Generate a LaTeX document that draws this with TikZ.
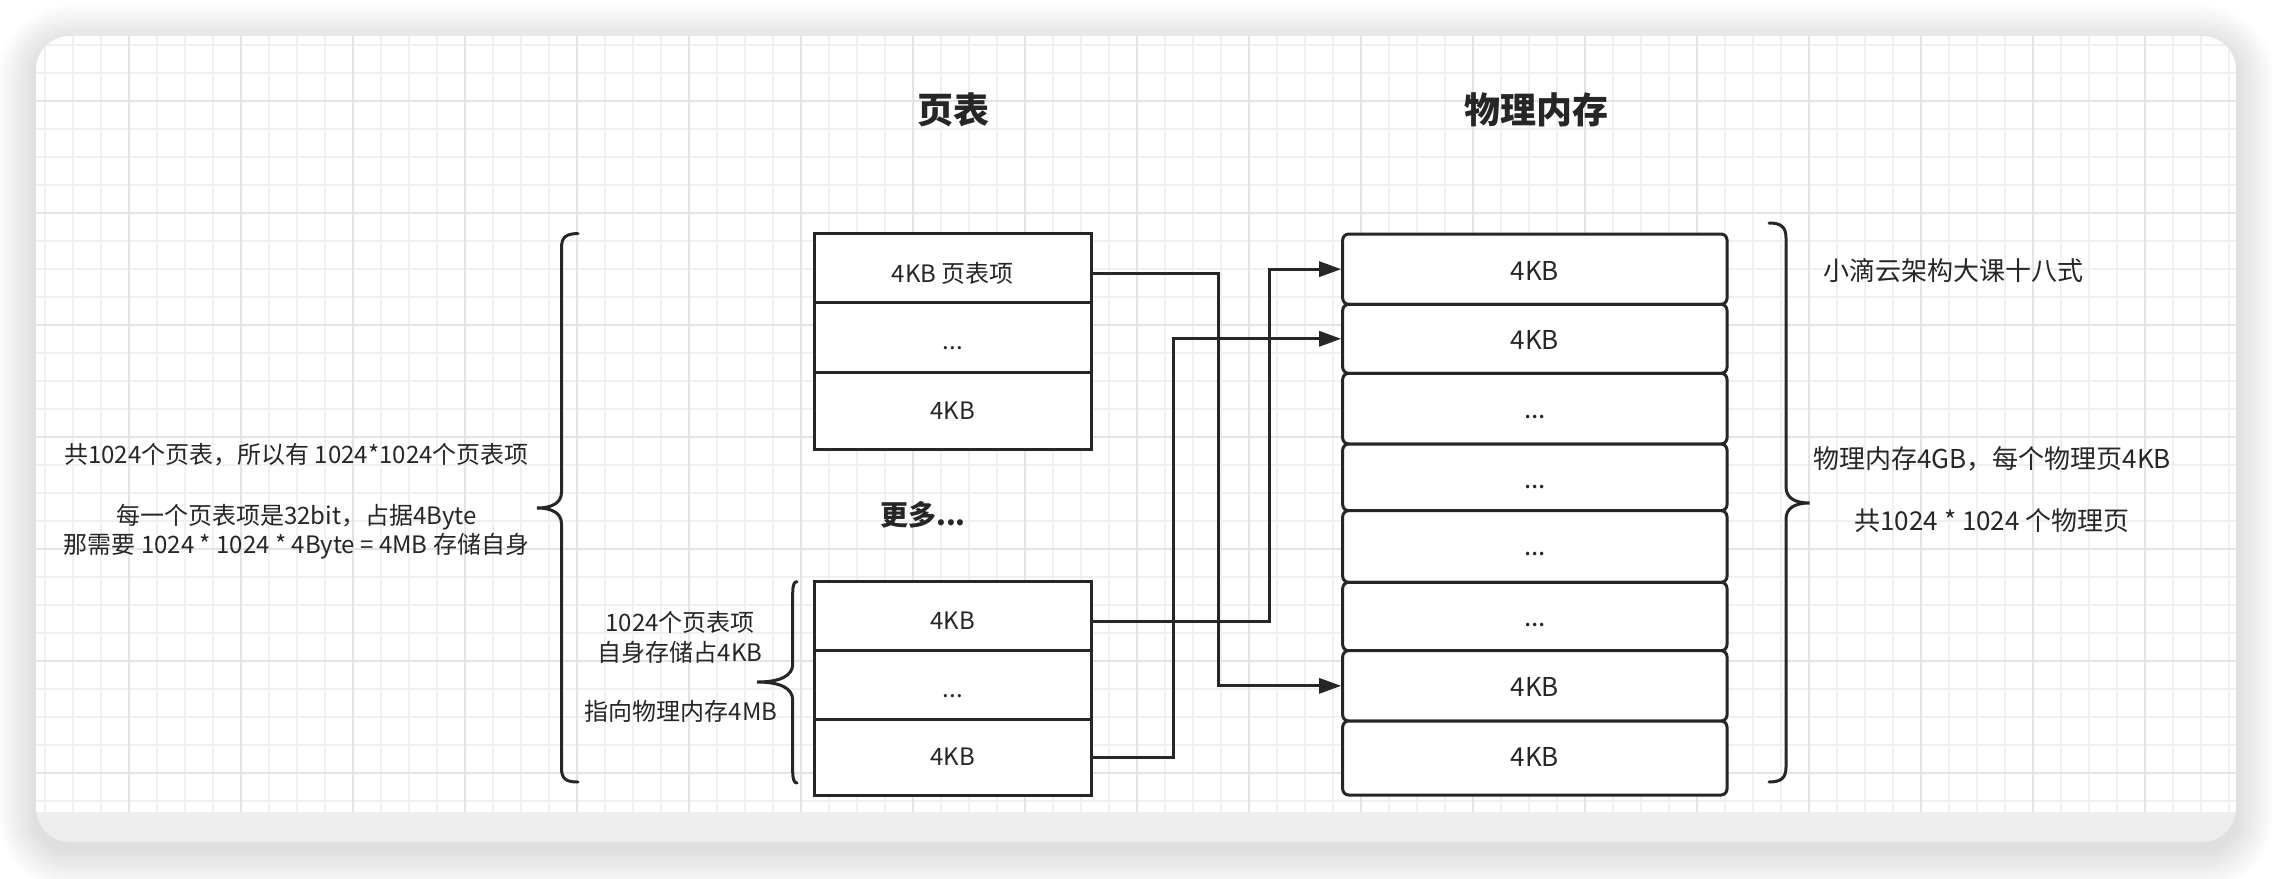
\documentclass[tikz,border=0pt]{standalone}
\usepackage{fontspec}
\setmainfont{Noto Sans CJK SC}
\usetikzlibrary{arrows.meta}
\definecolor{ink}{HTML}{262626}
\definecolor{gminor}{HTML}{F0F0F0}
\definecolor{gmajor}{HTML}{E4E4E4}
\definecolor{band}{HTML}{EEEEEE}
\begin{document}
\begin{tikzpicture}[x=1pt,y=-1pt,
  txt/.style={anchor=base, inner sep=0pt, text=ink, font=\fontsize{26}{30}\selectfont},
  note/.style={anchor=base, inner sep=0pt, text=ink, font=\fontsize{24}{28}\selectfont},
  ttl/.style={anchor=base, inner sep=0pt, text=ink, font=\fontsize{36}{40}\selectfont\bfseries},
  more/.style={anchor=base, inner sep=0pt, text=ink, font=\fontsize{28}{32}\selectfont\bfseries},
  ptcell/.style={draw=ink, line width=3pt, fill=white, minimum width=277.5pt, inner sep=0pt, text depth=0pt, text=ink, font=\fontsize{24}{28}\selectfont},
  memcell/.style={draw=ink, line width=3pt, fill=white, rounded corners=6pt, minimum width=384.3pt, inner sep=0pt, text depth=0pt, text=ink, font=\fontsize{26}{30}\selectfont},
  conn/.style={draw=ink, line width=3pt, -{Triangle[length=22pt,width=15pt]}},
  bracket/.style={draw=ink, line width=3pt, line cap=round},
  minorline/.style={draw=gminor, line width=1.6pt},
  majorline/.style={draw=gmajor, line width=2pt}]
\useasboundingbox (0,0) rectangle (2272,878);
\fill[white] (0,0) rectangle (2272,878);
% shadow
\foreach \k [evaluate=\k as \d using 2.4*\k, evaluate=\k as \r using 34+2.4*\k] in {1,...,16}
  \fill[black, opacity=0.0075, rounded corners=\r pt] (36-\d, 44-\d) rectangle (2236+\d, 850+\d);
% card
\begin{scope}
  \clip[rounded corners=34pt] (36,36) rectangle (2236,842);
  \fill[band] (36,36) rectangle (2236,842);
  \fill[white] (36,36) rectangle (2236,812);
  \foreach \i in {0,...,78} \draw[minorline] (44.7+28*\i,36) -- (44.7+28*\i,812);
  \foreach \j in {0,...,27} \draw[minorline] (36,45+28*\j) -- (2236,45+28*\j);
  \foreach \i in {0,...,18} \draw[majorline] (128.7+112*\i,36) -- (128.7+112*\i,812);
  \foreach \j in {0,...,6} \draw[majorline] (36,100.7+112*\j) -- (2236,100.7+112*\j);
\end{scope}

% titles
\node[ttl] (tpt) at (953,123.3) {页表};
\node[ttl] (tmem) at (1536.7,123.3) {物理内存};

% page table (top group)
\node[ptcell, minimum height=69.5pt, text height=30pt] (p1) at (952.75,267.75) {4KB 页表项};
\node[ptcell, minimum height=69.5pt, text height=24.4pt] (p2) at (952.75,337.25) {...};
\node[ptcell, minimum height=77pt, text height=18pt] (p3) at (952.75,410.5) {4KB};

\node[more] (more) at (923,525.3) {更多...};

% page table (bottom group)
\node[ptcell, minimum height=69pt, text height=27.2pt] (b1) at (952.75,616.2) {4KB};
\node[ptcell, minimum height=68.3pt, text height=24.3pt] (b2) at (952.75,684.85) {...};
\node[ptcell, minimum height=76pt, text height=17.2pt] (b3) at (952.75,757) {4KB};

% physical memory
\node[memcell, minimum height=70.3pt, text height=22pt] (m1) at (1534.85,269.15) {4KB};
\node[memcell, minimum height=69pt, text height=21.4pt] (m2) at (1534.85,338.8) {4KB};
\node[memcell, minimum height=70.7pt, text height=19pt] (m3) at (1534.85,408.65) {...};
\node[memcell, minimum height=66.7pt, text height=21.7pt] (m4) at (1534.85,477.35) {...};
\node[memcell, minimum height=71.6pt, text height=18pt] (m5) at (1534.85,546.5) {...};
\node[memcell, minimum height=68.4pt, text height=19.4pt] (m6) at (1534.85,616.5) {...};
\node[memcell, minimum height=70.3pt, text height=21.9pt] (m7) at (1534.85,685.85) {4KB};
\node[memcell, minimum height=74pt, text height=16.4pt] (m8) at (1534.85,758) {4KB};

% connectors
\coordinate (s1) at ([yshift=-6pt]p1.east);
\coordinate (s2) at ([yshift=-5pt]b1.east);
\coordinate (s3) at (b3.east);
\coordinate (j1) at (1218,0);
\coordinate (j2) at (1269,0);
\coordinate (j3) at (1173,0);
\draw[conn] (s3) -- (s3 -| j3) |- (m2.west);
\draw[conn] (s1) -- (s1 -| j1) |- (m7.west);
\draw[conn] (s2) -- (s2 -| j2) |- (m1.west);

% braces
\draw[bracket] (578,233.6) .. controls (566,233.6) and (561.5,237) .. (561.5,248)
  -- (561.5,492) .. controls (561.5,503) and (552,508) .. (537,508)
  .. controls (552,508) and (561.5,513) .. (561.5,524)
  -- (561.5,768) .. controls (561.5,779) and (566,782) .. (578,782);
\draw[bracket] (797,581.7) .. controls (794,581.7) and (792.7,585) .. (792.7,594)
  -- (792.7,664) .. controls (792.7,676) and (780,682) .. (757,682)
  .. controls (780,682) and (792.7,688) .. (792.7,700)
  -- (792.7,771) .. controls (792.7,779) and (794,783) .. (797,783);
\draw[bracket] (1769,223) .. controls (1781,223) and (1786,227) .. (1786,238)
  -- (1786,487) .. controls (1786,498) and (1795,503) .. (1809.5,503)
  .. controls (1795,503) and (1786,508) .. (1786,519)
  -- (1786,767) .. controls (1786,778) and (1781,782) .. (1769,782);

% left notes
\node[note] (l1) at (296.5,463.9) {共1024个页表，所以有 1024*1024个页表项};
\node[note] (l2) at (296.5,524.9) {每一个页表项是32bit，占据4Byte};
\node[note] (l3) at (296.5,553.9) {那需要 1024 * 1024 * 4Byte = 4MB 存储自身};

% small brace notes
\node[note] (s1t) at (680,631.9) {1024个页表项};
\node[note] (s2t) at (680,661.6) {自身存储占4KB};
\node[note] (s3t) at (681,720.6) {指向物理内存4MB};

% right notes
\node[txt] (r0) at (1953,280) {小滴云架构大课十八式};
\node[txt] (r1) at (1992,468.6) {物理内存4GB，每个物理页4KB};
\node[txt] (r2) at (1992,530) {共1024 * 1024 个物理页};
\end{tikzpicture}
\end{document}
